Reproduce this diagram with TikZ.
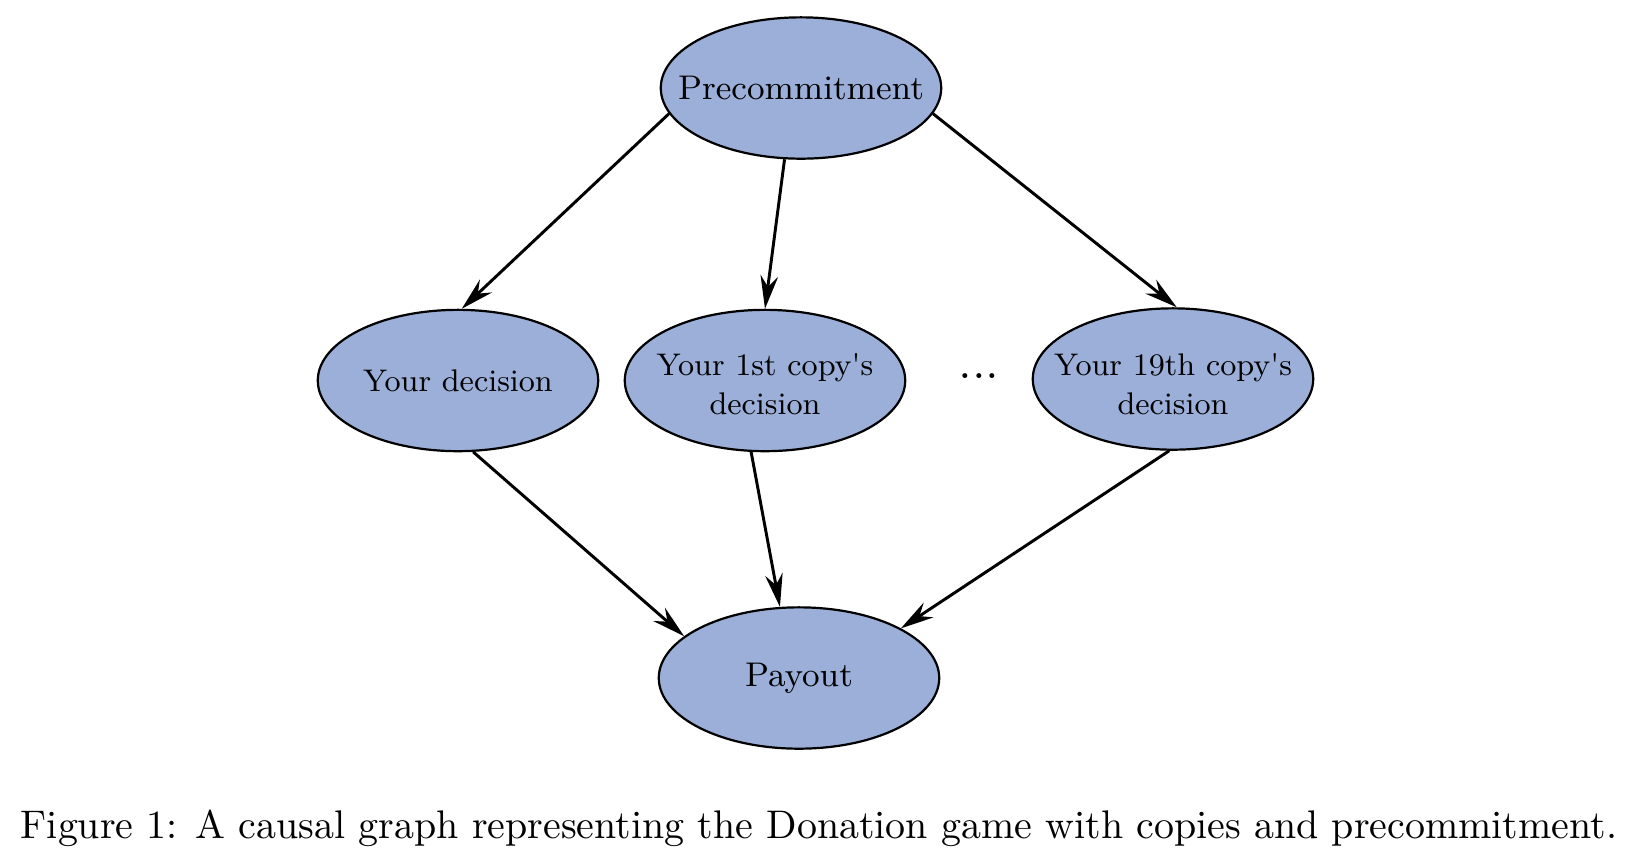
\documentclass[tikz,border=0pt]{standalone}
\usetikzlibrary{shapes.geometric,arrows.meta}
\definecolor{nodefill}{RGB}{155,175,217}
\begin{document}
\begin{tikzpicture}[x=0.2717pt,y=-0.2717pt,
  cnode/.style={ellipse,draw=black,line width=0.6pt,fill=nodefill,
    minimum width=76.2pt,minimum height=38.4pt,inner sep=0pt},
  bigtext/.style={font=\fontsize{9.3}{11}\selectfont,align=center,inner sep=0pt},
  smalltext/.style={font=\fontsize{8.5}{10.6}\selectfont,align=center,inner sep=0pt},
  arr/.style={-{Stealth[length=9pt,width=4.8pt,inset=3pt]},line width=0.8pt}]
\useasboundingbox (0,0) rectangle (1634,858);
\node[cnode,label={[bigtext]center:Precommitment}] (pre) at (801,88) {};
\node[cnode,label={[smalltext]center:Your decision}] (yd) at (458,380.5) {};
\node[cnode,label={[smalltext,yshift=-1.1pt]center:Your 1st copy\textquotesingle s\\decision}] (c1) at (765,380.5) {};
\node[cnode,label={[smalltext,yshift=-1.5pt]center:Your 19th copy\textquotesingle s\\decision}] (c19) at (1173,379) {};
\node[cnode,label={[bigtext]center:Payout}] (pay) at (799,678) {};
\node[inner sep=0pt,font=\fontsize{13.7}{14}\selectfont] (dots) at (979,376) {...};
\draw[arr] (pre.191.5) -- (yd.87);
\draw[arr] (pre.257.3) -- (c1.90);
\draw[arr] (pre.349.5) -- (c19.87.6);
\draw[arr] (yd.282.6) -- (pay.160);
\draw[arr] (c1.259) -- (pay.105.7);
\draw[arr] (c19.267.6) -- (pay.26.3);
\node[anchor=base,inner sep=0pt,font=\fontsize{10.85}{13}\selectfont] (cap) at (819,838) {Figure 1: A causal graph representing the Donation game with copies and precommitment.};
\end{tikzpicture}
\end{document}
